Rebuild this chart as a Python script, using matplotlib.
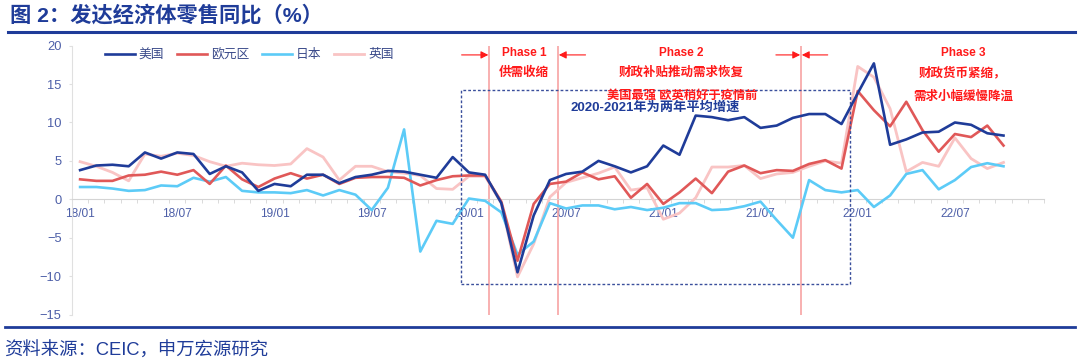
#!/usr/bin/env python3
"""
Retail sales yoy for developed economies (US / Eurozone / Japan / UK), 2018-2022.
Saves out.png (1080x362).
"""

import matplotlib
matplotlib.use("Agg")
import matplotlib.pyplot as plt
from matplotlib.lines import Line2D
from matplotlib.patches import Rectangle

plt.rcParams['font.family'] = ['Liberation Sans', 'Noto Sans CJK SC', 'DejaVu Sans']

# monthly values, 18/01 .. 22/10 (axis runs to 22/12)
us = [3.8, 4.4, 4.5, 4.3, 6.1, 5.3, 6.1, 5.9, 3.3, 4.3,
      3.5, 1.1, 2.0, 1.7, 3.2, 3.2, 2.1, 2.9, 3.2, 3.7,
      3.6, 3.2, 2.8, 5.5, 3.5, 3.2, -0.5, -9.5, -2.1, 2.5,
      3.3, 3.6, 5.0, 4.3, 3.5, 4.3, 7.0, 5.8, 10.9, 10.7,
      10.3, 10.7, 9.3, 9.6, 10.6, 11.1, 11.1, 9.8, 13.8, 17.7,
      7.1, 7.8, 8.7, 8.8, 10.0, 9.7, 8.6, 8.3]
eurozone = [2.6, 2.4, 2.4, 3.1, 3.2, 3.6, 3.2, 3.8, 2.0, 4.4,
            2.6, 1.6, 2.7, 3.4, 2.7, 3.2, 2.0, 2.8, 2.9, 2.9,
            2.8, 1.8, 2.5, 3.0, 3.1, 3.1, -0.3, -8.0, -0.6, 2.0,
            2.3, 3.5, 2.6, 3.0, 0.2, 2.0, -0.6, 0.9, 2.7, 0.8,
            3.6, 4.4, 3.4, 3.8, 3.7, 4.6, 5.1, 4.0, 14.1, 11.6,
            9.5, 12.7, 9.0, 6.2, 8.5, 8.1, 9.6, 7.0]
japan = [1.6, 1.6, 1.4, 1.1, 1.2, 1.8, 1.7, 2.8, 2.3, 2.9,
         1.1, 0.9, 0.9, 0.8, 1.2, 0.5, 1.2, 0.6, -1.4, 1.5,
         9.1, -6.8, -2.8, -3.2, 0.1, -0.2, -1.7, -7.2, -5.5, -0.5,
         -1.2, -0.8, -0.8, -1.3, -1.0, -1.4, -1.1, -0.5, -0.5, -1.4,
         -1.3, -0.9, -0.3, -2.7, -5.0, 2.5, 1.2, 0.9, 1.2, -1.0,
         0.5, 3.3, 3.8, 1.3, 2.5, 4.2, 4.7, 4.3]
uk = [4.9, 4.3, 3.5, 2.4, 5.9, 5.6, 6.0, 5.7, 4.9, 4.3,
      4.7, 4.5, 4.4, 4.6, 6.6, 5.5, 2.5, 4.3, 4.3, 3.6,
      3.4, 3.1, 1.4, 1.3, 3.0, 3.0, -0.5, -10.1, -5.8, 0.3,
      2.2, 2.8, 3.4, 4.2, 1.2, 1.5, -2.6, -1.8, 0.2, 4.2,
      4.2, 4.4, 2.7, 3.3, 3.5, 4.3, 5.0, 4.7, 17.3, 15.9,
      11.8, 3.6, 4.8, 4.3, 8.0, 5.3, 4.0, 4.8]

n_months = 60
tick_labels = ['18/01', '18/07', '19/01', '19/07', '20/01',
               '20/07', '21/01', '21/07', '22/01', '22/07']
yticks = [-15, -10, -5, 0, 5, 10, 15, 20]

NAVY = '#1f3c99'
RED = '#ff1a1a'
LABEL_C = '#4d5fa8'


def main():
    fig = plt.figure(figsize=(10.8, 3.62), dpi=100)
    ax = fig.add_axes([72 / 1080, 1 - 314.5 / 362, 972 / 1080, 268.8 / 362])

    x = list(range(len(us)))
    ax.plot(x, uk, color='#f9c4c4', lw=2.0, label='英国', zorder=3)
    ax.plot(x, japan, color='#5ccbf7', lw=1.9, label='日本', zorder=4)
    ax.plot(x, eurozone, color='#e05858', lw=1.9, label='欧元区', zorder=5)
    ax.plot(x, us, color=NAVY, lw=1.9, label='美国', zorder=6)

    ax.set_xlim(-0.5, n_months - 0.5)
    ax.set_ylim(-15, 20)

    # x axis sits on zero line, ticks between categories
    for s in ['top', 'right']:
        ax.spines[s].set_visible(False)
    ax.spines['bottom'].set_position(('data', 0))
    ax.spines['bottom'].set_color('#d4d4d4')
    ax.spines['left'].set_color('#e0e0e0')
    ax.set_xticks(range(0, n_months, 6))
    ax.set_xticklabels(tick_labels)
    ax.set_xticks([i + 0.5 for i in range(-1, n_months)], minor=True)
    ax.tick_params(axis='x', which='major', length=0, pad=6.5,
                   labelsize=8.6, labelcolor=LABEL_C)
    ax.tick_params(axis='x', which='minor', length=3, color='#d4d4d4', direction='out')
    ax.set_yticks(yticks)
    ax.tick_params(axis='y', length=2.5, color='#e0e0e0', pad=5,
                   labelsize=9.3, labelcolor=LABEL_C)

    # phase separators
    for xv in [25.25, 29.5, 44.5]:
        ax.axvline(xv, color='#f7a3a3', lw=1.2, zorder=2)

    ay = 18.8
    for x0, x1 in [(23.55, 25.2), (31.2, 29.55), (42.95, 44.45), (46.15, 44.55)]:
        ax.annotate('', xy=(x1, ay), xytext=(x0, ay),
                    arrowprops=dict(arrowstyle='-|>', color=RED, lw=0.8,
                                    mutation_scale=11, shrinkA=0, shrinkB=0))

    ax.add_patch(Rectangle((23.5, -11), 24, 25.2, fill=False, ec='#3a4f9c',
                           lw=1.0, ls=(0, (2, 1.5)), zorder=7))

    tk = dict(color=RED, fontweight='bold', ha='center', va='center', zorder=8)
    ax.text(27.4, 19.05, 'Phase 1', fontsize=8.5, **tk)
    ax.text(27.4, 16.45, '供需收缩', fontsize=9, **tk)
    ax.text(37.1, 19.05, 'Phase 2', fontsize=8.5, **tk)
    ax.text(37.1, 16.45, '财政补贴推动需求恢复', fontsize=9, **tk)
    ax.text(37.15, 13.5, '美国最强 欧英稍好于疫情前', fontsize=8.8, **tk)
    ax.text(35.5, 11.9, '2020-2021年为两年平均增速', fontsize=9.5, color=NAVY,
            fontweight='bold', ha='center', va='center', zorder=8)
    ax.text(54.5, 19.05, 'Phase 3', fontsize=8.5, **tk)
    ax.text(54.45, 16.5, '财政货币紧缩，', fontsize=9, **tk)
    ax.text(54.5, 13.4, '需求小幅缓慢降温', fontsize=9, **tk)

    handles, labels = ax.get_legend_handles_labels()
    order = [3, 2, 1, 0]
    leg = ax.legend([handles[i] for i in order], [labels[i] for i in order],
                    loc='center left', bbox_to_anchor=(0.034, 0.965), ncol=4,
                    frameon=False, fontsize=9.2, handlelength=2.35,
                    handletextpad=0.3, columnspacing=1.0, borderpad=0,
                    borderaxespad=0)
    for t in leg.get_texts():
        t.set_color('#3a4a8a')

    # title, rules and source
    fig.text(10 / 1080, 1 - 15 / 362, '图 2：发达经济体零售同比（%）', fontsize=15.3,
             fontweight='bold', color=NAVY, ha='left', va='center')
    fig.add_artist(Line2D([8 / 1080, 1075 / 1080], [1 - 31.5 / 362] * 2,
                          color=NAVY, lw=2.2))
    fig.add_artist(Line2D([5 / 1080, 1075 / 1080], [1 - 327 / 362] * 2,
                          color=NAVY, lw=2.0))
    fig.text(4 / 1080, 1 - 350.5 / 362, '资料来源：CEIC，申万宏源研究', fontsize=13.2,
             color=NAVY, ha='left', va='center')

    fig.savefig('out.png', dpi=100)


if __name__ == "__main__":
    main()
